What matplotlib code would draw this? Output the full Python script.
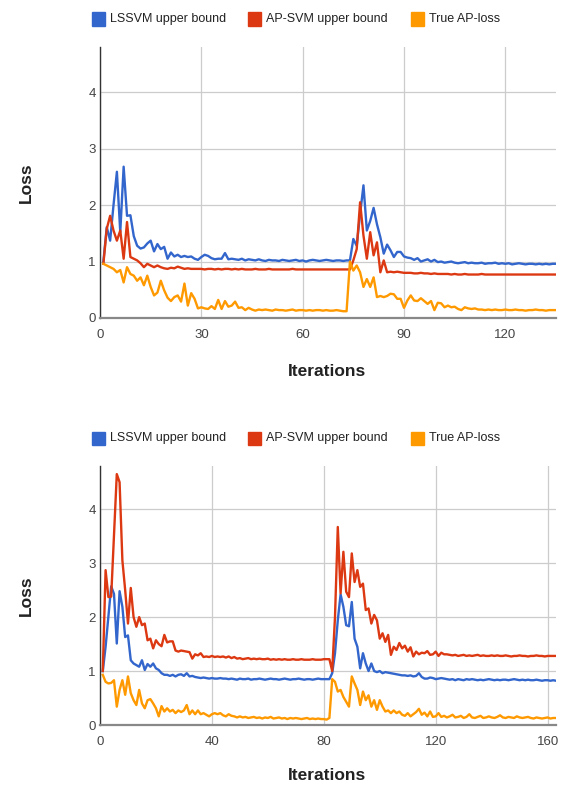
import matplotlib
matplotlib.use('Agg')
import matplotlib.pyplot as plt
import numpy as np
from matplotlib.patches import Rectangle

series_names = ['LSSVM upper bound', 'AP-SVM upper bound', 'True AP-loss']
series_colors = ['#3366cc', '#dc3912', '#ff9900']

# first run (135 iterations)
top_lssvm = [
    1.00, 1.61, 1.37, 2.00, 2.59, 1.52, 2.68, 1.81, 1.82, 1.45, 1.28, 1.23, 1.25, 1.32, 1.37, 1.18, 1.31, 1.22,
    1.26, 1.05, 1.16, 1.09, 1.12, 1.08, 1.10, 1.08, 1.09, 1.05, 1.03, 1.08, 1.12, 1.10, 1.06, 1.04, 1.05, 1.05,
    1.15, 1.04, 1.05, 1.04, 1.03, 1.05, 1.02, 1.04,
    1.03, 1.02, 1.04, 1.02, 1.01, 1.03, 1.02, 1.02, 1.01, 1.03, 1.02, 1.01, 1.02, 1.03, 1.01, 1.02, 1.00, 1.02,
    1.03, 1.02, 1.01, 1.02, 1.03, 1.02, 1.01, 1.02, 1.02, 1.01, 1.02,
    1.02, 1.40, 1.28, 1.84, 2.35, 1.55, 1.72, 1.95, 1.66, 1.43, 1.14, 1.30, 1.20, 1.08, 1.17, 1.17, 1.09, 1.07,
    1.06, 1.03, 1.06, 1.00, 1.02,
    1.04, 1.00, 1.03, 0.99, 1.00, 0.98, 0.99, 1.00, 0.98, 0.97, 0.98, 0.99, 0.97, 0.98, 0.97, 0.97, 0.98, 0.96,
    0.97, 0.97, 0.98, 0.96, 0.97, 0.96, 0.97, 0.95, 0.96, 0.97, 0.96, 0.95, 0.96, 0.96, 0.95, 0.96, 0.95, 0.96,
    0.95, 0.96, 0.96,
]
top_apsvm = [
    0.96, 1.58, 1.81, 1.55, 1.37, 1.55, 1.05, 1.70, 1.08, 1.05, 1.02, 0.97, 0.90, 0.96, 0.93, 0.90, 0.93, 0.90,
    0.88, 0.87, 0.89, 0.88, 0.91, 0.89, 0.87, 0.88, 0.87, 0.87, 0.87, 0.87, 0.86, 0.87, 0.87, 0.86, 0.87, 0.86,
    0.87, 0.87, 0.86, 0.87, 0.86, 0.87, 0.86, 0.86,
    0.86, 0.87, 0.86, 0.86, 0.86, 0.87, 0.86, 0.86, 0.86, 0.86, 0.86, 0.86, 0.87, 0.86, 0.86, 0.86, 0.86, 0.86,
    0.86, 0.86, 0.86, 0.86, 0.86, 0.86, 0.86, 0.86, 0.86, 0.86, 0.86,
    0.86, 1.02, 1.22, 2.05, 1.46, 1.05, 1.52, 1.11, 1.34, 0.81, 1.02, 0.81, 0.82, 0.81, 0.82, 0.81, 0.80, 0.80,
    0.80, 0.79, 0.79, 0.80, 0.79,
    0.79, 0.78, 0.79, 0.78, 0.78, 0.78, 0.78, 0.77, 0.78, 0.77, 0.77, 0.78, 0.77, 0.77, 0.77, 0.77, 0.78, 0.77,
    0.77, 0.77, 0.77, 0.77, 0.77, 0.77, 0.77, 0.77, 0.77, 0.77, 0.77, 0.77, 0.77, 0.77, 0.77, 0.77, 0.77, 0.77,
    0.77, 0.77, 0.77,
]
top_true = [
    0.96, 0.93, 0.90, 0.87, 0.81, 0.85, 0.63, 0.90, 0.78, 0.75, 0.66, 0.72, 0.58, 0.75, 0.55, 0.40, 0.45, 0.66,
    0.49, 0.36, 0.30, 0.37, 0.40, 0.29, 0.61, 0.22, 0.44, 0.34, 0.17, 0.19, 0.17, 0.16, 0.21, 0.16, 0.32, 0.16,
    0.30, 0.20, 0.22, 0.29, 0.18, 0.19, 0.14, 0.18,
    0.15, 0.13, 0.15, 0.14, 0.15, 0.14, 0.13, 0.15, 0.14, 0.14, 0.13, 0.14, 0.15, 0.13, 0.14, 0.14, 0.13, 0.14,
    0.13, 0.14, 0.14, 0.13, 0.14, 0.13, 0.13, 0.14, 0.13, 0.12, 0.12,
    1.00, 0.84, 0.93, 0.81, 0.55, 0.69, 0.55, 0.72, 0.37, 0.39, 0.37, 0.39, 0.43, 0.42, 0.34, 0.34, 0.18, 0.31,
    0.40, 0.31, 0.30, 0.35, 0.30,
    0.25, 0.30, 0.14, 0.27, 0.26, 0.19, 0.22, 0.19, 0.20, 0.16, 0.14, 0.19, 0.17, 0.16, 0.17, 0.15, 0.15, 0.14,
    0.15, 0.14, 0.15, 0.14, 0.14, 0.15, 0.14, 0.14, 0.15, 0.14, 0.14, 0.13, 0.14, 0.14, 0.15, 0.14, 0.14, 0.13,
    0.14, 0.14, 0.14,
]

# second run (163 iterations)
bot_lssvm = [
    1.00, 1.45, 2.00, 2.57, 2.43, 1.51, 2.48, 2.19, 1.63, 1.66, 1.20, 1.14, 1.11, 1.08, 1.20, 1.02, 1.13, 1.08,
    1.14, 1.05, 1.02, 0.96, 0.93, 0.93, 0.91, 0.93,
    0.90, 0.93, 0.94, 0.91, 0.96, 0.90, 0.91, 0.89, 0.88, 0.87, 0.88, 0.87, 0.86, 0.87, 0.86, 0.86, 0.87, 0.86,
    0.86, 0.85, 0.86, 0.85, 0.84, 0.86, 0.85, 0.85, 0.86, 0.84, 0.85, 0.85, 0.86, 0.85, 0.84, 0.85, 0.86, 0.85,
    0.85, 0.84, 0.85, 0.86, 0.85, 0.84, 0.85, 0.85, 0.86, 0.85, 0.84, 0.85, 0.85, 0.84, 0.85, 0.86, 0.85, 0.85,
    0.85,
    0.85, 0.96, 1.33, 1.94, 2.42, 2.19, 1.85, 1.83, 2.28, 1.60, 1.45, 1.05, 1.33, 1.14, 1.00, 1.14, 1.00, 0.98,
    1.00,
    0.96, 0.98, 0.97, 0.96, 0.95, 0.94, 0.93, 0.92, 0.92, 0.91, 0.92, 0.90, 0.91, 0.96, 0.89, 0.86, 0.86, 0.88,
    0.87, 0.85,
    0.86, 0.87, 0.86, 0.85, 0.84, 0.85, 0.83, 0.85, 0.84, 0.83, 0.85, 0.84, 0.85, 0.84, 0.83, 0.84, 0.83, 0.84,
    0.85, 0.84, 0.83, 0.84, 0.83, 0.84, 0.84, 0.83, 0.84, 0.85, 0.84, 0.83, 0.84, 0.83, 0.84, 0.83, 0.83, 0.84,
    0.83, 0.82, 0.83, 0.83, 0.82, 0.83, 0.82,
]
bot_apsvm = [
    1.00, 2.87, 2.37, 2.38, 3.50, 4.65, 4.50, 3.05, 2.50, 1.88, 2.54, 2.00, 1.82, 2.00, 1.85, 1.88, 1.57, 1.60,
    1.42, 1.57, 1.50, 1.46, 1.67, 1.53, 1.55, 1.55,
    1.38, 1.36, 1.38, 1.37, 1.36, 1.35, 1.23, 1.31, 1.29, 1.33, 1.26, 1.27, 1.26, 1.28, 1.26, 1.27, 1.26, 1.27,
    1.25, 1.27, 1.24, 1.26, 1.23, 1.24, 1.22, 1.23, 1.24, 1.22, 1.23, 1.22, 1.23, 1.22, 1.22, 1.23, 1.21, 1.22,
    1.21, 1.22, 1.21, 1.22, 1.21, 1.21, 1.22, 1.21, 1.21, 1.22, 1.21, 1.21, 1.21, 1.22, 1.21, 1.21, 1.21, 1.22,
    1.22,
    1.22, 1.00, 2.00, 3.67, 2.44, 3.21, 2.47, 2.37, 3.18, 2.65, 2.87, 2.56, 2.62, 2.13, 2.16, 1.88, 2.04, 1.94,
    1.60, 1.70, 1.54, 1.67,
    1.30, 1.45, 1.39, 1.52, 1.42, 1.47, 1.36, 1.44, 1.27, 1.36, 1.31, 1.34, 1.33, 1.37, 1.30, 1.31, 1.36, 1.28,
    1.34, 1.31, 1.31, 1.30,
    1.29, 1.30, 1.28, 1.29, 1.30, 1.28, 1.29, 1.28, 1.29, 1.30, 1.28, 1.29, 1.28, 1.28, 1.29, 1.28, 1.29, 1.28,
    1.28, 1.29, 1.28, 1.27, 1.28, 1.28, 1.29, 1.28, 1.28, 1.27, 1.28, 1.28, 1.29, 1.28, 1.28, 1.27, 1.28, 1.28,
    1.28, 1.28,
]
bot_true = [
    0.93, 0.80, 0.77, 0.78, 0.83, 0.34, 0.65, 0.83, 0.56, 0.90, 0.59, 0.46, 0.37, 0.65, 0.40, 0.31, 0.46, 0.48,
    0.40, 0.31, 0.16, 0.35, 0.25, 0.31, 0.25, 0.28,
    0.22, 0.27, 0.24, 0.27, 0.37, 0.20, 0.27, 0.20, 0.27, 0.20, 0.22, 0.19, 0.16, 0.20, 0.22, 0.20, 0.22, 0.18,
    0.16, 0.20, 0.17, 0.16, 0.14, 0.16, 0.14, 0.15, 0.13, 0.14, 0.15, 0.13, 0.14, 0.12, 0.14, 0.13, 0.15, 0.12,
    0.13, 0.14, 0.12, 0.13, 0.11, 0.13, 0.12, 0.13, 0.12, 0.11, 0.12, 0.13, 0.11, 0.12, 0.11, 0.12, 0.11, 0.11,
    0.10, 0.13,
    0.85, 0.80, 0.62, 0.65, 0.52, 0.43, 0.34, 0.90, 0.77, 0.65, 0.37, 0.62, 0.46, 0.55, 0.34, 0.46, 0.28, 0.46,
    0.34, 0.25, 0.27, 0.22, 0.27, 0.22,
    0.25, 0.19, 0.17, 0.22, 0.16, 0.20, 0.24, 0.30, 0.19, 0.23, 0.16, 0.25, 0.15, 0.16, 0.22, 0.15,
    0.17, 0.14, 0.16, 0.19, 0.14, 0.15, 0.17, 0.13, 0.15, 0.20, 0.14, 0.13, 0.15, 0.17, 0.13, 0.14, 0.16, 0.14,
    0.13, 0.15, 0.18, 0.14, 0.13, 0.15, 0.14, 0.13, 0.16, 0.14, 0.13, 0.14, 0.15, 0.13, 0.12, 0.14, 0.13, 0.12,
    0.13, 0.14, 0.12, 0.13, 0.13,
]

top_xticks = [0, 30, 60, 90, 120]
bot_xticks = [0, 40, 80, 120, 160]
yticks = [0, 1, 2, 3, 4]

W, H = 567, 786
plt.rcParams['font.family'] = ['Liberation Sans', 'DejaVu Sans']
fig = plt.figure(figsize=(W / 100, H / 100), dpi=100)


def box(left, top, right, bottom):
    return [left / W, 1 - bottom / H, (right - left) / W, (bottom - top) / H]


def draw_panel(top, bottom, runs, xticks, xmax, legend_y, xlabel_y):
    ax = fig.add_axes(box(100, top, 556, bottom))
    for vals, color in zip(runs, series_colors):
        ax.plot(np.arange(1, len(vals) + 1), vals, color=color, lw=1.7, solid_joinstyle='round')
    ax.set_xlim(0, xmax)
    ax.set_ylim(0, 4.8)
    ax.set_xticks(xticks)
    ax.set_yticks(yticks)
    ax.grid(True, color='#cccccc', lw=0.9)
    ax.set_axisbelow(True)
    for s in ['top', 'right']:
        ax.spines[s].set_visible(False)
    ax.spines['left'].set_color('#333333')
    ax.spines['left'].set_linewidth(1.0)
    ax.spines['bottom'].set_color('#888888')
    ax.spines['bottom'].set_linewidth(1.6)
    ax.tick_params(length=0, labelsize=9.5, labelcolor='#444444')
    ax.tick_params(axis='x', pad=8)
    ax.tick_params(axis='y', pad=3)

    # legend row above the panel
    xs = [92, 248, 411]
    for x0, name, color in zip(xs, series_names, series_colors):
        fig.patches.append(Rectangle((x0 / W, 1 - (legend_y + 6.5) / H), 13 / W, 13 / H,
                                     transform=fig.transFigure, color=color))
        fig.text((x0 + 18) / W, 1 - legend_y / H, name, fontsize=9.0, color='#222222',
                 va='center', ha='left')

    fig.text(26 / W, 1 - ((top + bottom) / 2) / H, 'Loss', rotation=90,
             fontsize=12.5, fontweight='bold', color='#222222', ha='center', va='center')
    fig.text(327 / W, 1 - xlabel_y / H, 'Iterations', fontsize=12.5, fontweight='bold',
             color='#222222', ha='center', va='center')
    return ax


draw_panel(47, 318, [top_lssvm, top_apsvm, top_true], top_xticks, 135, 19, 372)
draw_panel(466, 725, [bot_lssvm, bot_apsvm, bot_true], bot_xticks, 163, 438, 776)

fig.savefig('out.png', dpi=100)
